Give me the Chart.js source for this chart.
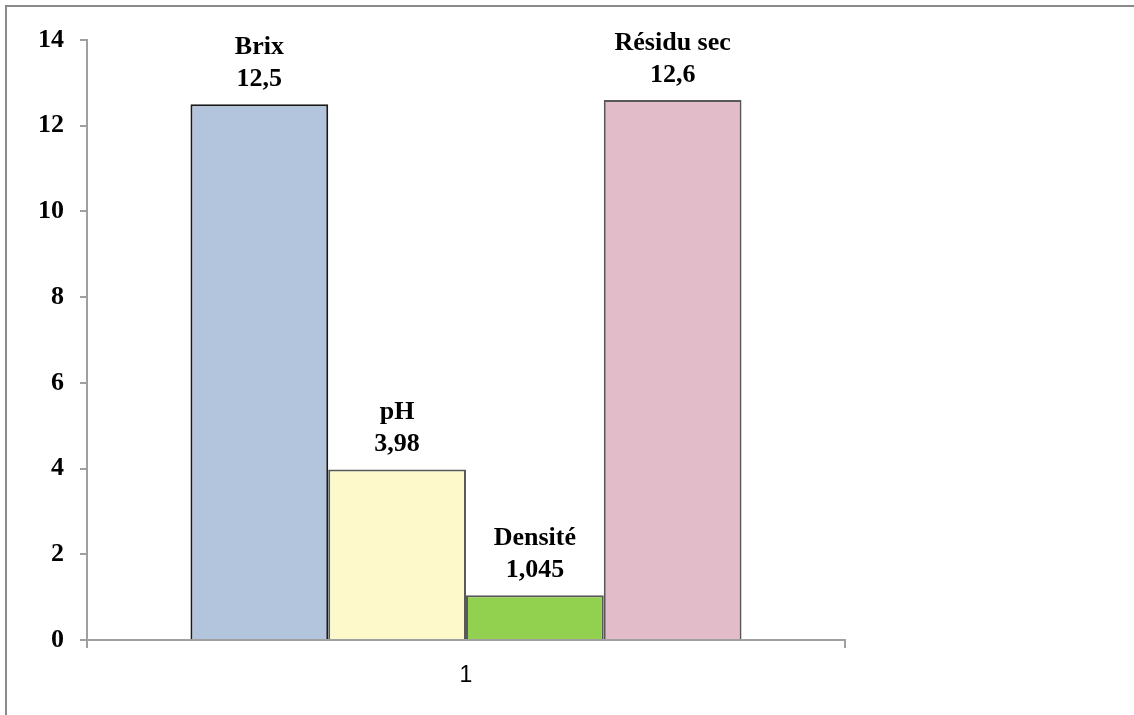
<!DOCTYPE html>
<html>
<head>
<meta charset="utf-8">
<script src="https://cdn.jsdelivr.net/npm/chart.js@4.4.1/dist/chart.umd.min.js"></script>
<style>
  html, body { margin: 0; padding: 0; background: #fff; overflow: hidden; }
  #wrap { position: relative; width: 1134px; height: 715px; }
  #frame {
    position: absolute; left: 5px; top: 5px; width: 1200px; height: 800px;
    border-top: 2px solid #8a8a8a; border-left: 2px solid #8a8a8a;
    pointer-events: none;
  }
  canvas { position: absolute; left: 0; top: 0; }
</style>
</head>
<body>
<div id="wrap">
  <canvas id="c" width="1134" height="715"></canvas>
  <div id="frame"></div>
</div>
<script>
// Measured properties of the juice sample
const categories = ['1'];
const seriesNames = ['Brix', 'pH', 'Densité', 'Résidu sec'];
const brix = [12.5];
const ph = [3.98];
const densite = [1.045];
const residuSec = [12.6];
const yTicks = [0, 2, 4, 6, 8, 10, 12, 14];

const fills = ['#b3c5dc', '#fdf9ca', '#92d050', '#e3bcc9'];
const edges = ['#1a1a1a', '#595959', '#595959', '#595959'];
const seriesValues = [brix, ph, densite, residuSec];

const serif = '"Liberation Serif", "Times New Roman", serif';
const axisGray = '#a0a0a0';

const fmt = v => String(v).replace('.', ',');

// Two-line label (series name + value) above each bar
const barLabels = {
  id: 'barLabels',
  afterDatasetsDraw(chart) {
    const ctx = chart.ctx;
    ctx.save();
    ctx.font = 'bold 26px ' + serif;
    ctx.fillStyle = '#000';
    ctx.textAlign = 'center';
    ctx.textBaseline = 'alphabetic';
    chart.data.datasets.forEach((ds, i) => {
      const meta = chart.getDatasetMeta(i);
      meta.data.forEach((bar, j) => {
        const v = ds.data[j];
        ctx.fillText(fmt(v), bar.x, bar.y - 18);
        ctx.fillText(ds.label, bar.x, bar.y - 50);
      });
    });
    ctx.restore();
  }
};

new Chart(document.getElementById('c'), {
  type: 'bar',
  data: {
    labels: categories,
    datasets: seriesNames.map((name, i) => ({
      label: name,
      data: seriesValues[i],
      backgroundColor: fills[i],
      borderColor: edges[i],
      borderWidth: 2,
      borderSkipped: 'start',
      categoryPercentage: 0.727,
      barPercentage: 1.0
    }))
  },
  options: {
    responsive: false,
    animation: false,
    devicePixelRatio: 1,
    layout: { padding: { left: 0, right: 289, top: 40, bottom: 0 } },
    plugins: {
      legend: { display: false },
      tooltip: { enabled: false }
    },
    scales: {
      x: {
        offset: true,
        grid: {
          display: true, offset: true, drawOnChartArea: false,
          drawTicks: true, tickLength: 8, color: axisGray, lineWidth: 2
        },
        border: { display: true, color: axisGray, width: 2 },
        ticks: {
          color: '#000',
          font: { family: '"Liberation Sans", Arial, sans-serif', size: 23 },
          padding: 14
        },
        afterFit(axis) { axis.height = 75; }
      },
      y: {
        min: 0, max: 14,
        afterBuildTicks(axis) { axis.ticks = yTicks.map(v => ({ value: v })); },
        grid: {
          display: true, drawOnChartArea: false, drawTicks: true,
          tickLength: 7, color: axisGray, lineWidth: 2
        },
        border: { display: true, color: axisGray, width: 2 },
        ticks: {
          color: '#000',
          font: { family: serif, size: 26, weight: 'bold' },
          padding: 16
        },
        afterFit(axis) { axis.width = 87; }
      }
    }
  },
  plugins: [barLabels]
});
</script>
</body>
</html>
